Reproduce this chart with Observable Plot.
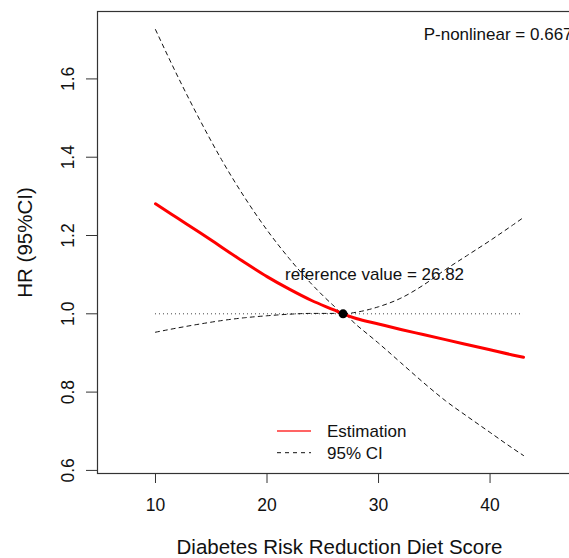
<!DOCTYPE html>
<html>
<head>
<meta charset="utf-8">
<script src="https://cdn.jsdelivr.net/npm/d3@7"></script>
<script src="https://cdn.jsdelivr.net/npm/@observablehq/plot@0.6"></script>
<style>
  html, body { margin: 0; padding: 0; background: #fff; }
  #chart { position: relative; width: 569px; height: 558px; overflow: hidden; }
  #chart svg { font-family: "Liberation Sans", Arial, sans-serif; max-width: none !important; width: 581px !important; height: 558px !important; }
</style>
</head>
<body>
<div id="chart"></div>
<script>
// Diet score values (x)
const score = [10, 12, 14, 16, 18, 20, 22, 24, 26, 26.82, 28, 30, 32, 34, 36, 38, 40, 42, 43];
// Estimated HR
const estimate = [1.281, 1.244, 1.207, 1.169, 1.131, 1.095, 1.063, 1.034, 1.010, 1.0, 0.988, 0.974, 0.960, 0.947, 0.934, 0.921, 0.908, 0.895, 0.889];
// Upper 95% CI
const upperCI = [1.726, 1.606, 1.494, 1.390, 1.297, 1.214, 1.141, 1.076, 1.020, 1.0, 1.004, 1.018, 1.040, 1.073, 1.113, 1.150, 1.187, 1.226, 1.246];
// Lower 95% CI
const lowerCI = [0.953, 0.964, 0.974, 0.983, 0.990, 0.995, 0.999, 1.001, 1.001, 1.0, 0.972, 0.925, 0.875, 0.825, 0.778, 0.737, 0.697, 0.657, 0.638];

const refValue = 26.82;
const refHR = 1.0;
const xTicks = [10, 20, 30, 40];
const yTicks = [0.6, 0.8, 1.0, 1.2, 1.4, 1.6];
const pLabel = "P-nonlinear = 0.667";
const pPos = {x: 34.05, y: 1.713};
const refLabel = "reference value = 26.82";
const refLabelPos = {x: 29.64, y: 1.1};
const xLabel = "Diabetes Risk Reduction Diet Score";
const yLabel = "HR (95%CI)";
const legendLabels = ["Estimation", "95% CI"];

const rows = score.map((s, i) => ({score: s, est: estimate[i], up: upperCI[i], lo: lowerCI[i]}));

const fs = 17;
const tfs = 17.5;
const lfs = 20.5;
const chart = Plot.plot({
  width: 581,
  height: 558,
  marginLeft: 97,
  marginTop: 11,
  marginBottom: 85,
  marginRight: 0,
  style: {fontFamily: '"Liberation Sans", Arial, sans-serif', fontSize: fs + "px", background: "#fff", color: "#000"},
  x: {domain: [4.8, 48.2], axis: null},
  y: {domain: [0.5921, 1.7722], axis: null},
  marks: [
    Plot.frame({stroke: "#333", strokeWidth: 1.2}),
    Plot.axisX({ticks: xTicks, tickSize: 10, tickPadding: 15, fontSize: tfs, stroke: "#333", fill: "#111", tickFormat: d => d, label: null}),
    Plot.axisY({ticks: yTicks, tickSize: 11, tickFormat: () => "", label: null, stroke: "#333"}),
    Plot.text(yTicks, {y: d => d, text: d => d.toFixed(1), frameAnchor: "left", dx: -24, rotate: -90, textAnchor: "middle", lineAnchor: "bottom", fontSize: tfs, fill: "#111"}),
    Plot.ruleY([refHR], {x1: score[0], x2: score[score.length - 1], stroke: "#444", strokeDasharray: "1,3", strokeWidth: 1}),
    Plot.line(rows, {x: "score", y: "up", stroke: "#111", strokeWidth: 1, strokeDasharray: "4,4", curve: "monotone-x"}),
    Plot.line(rows, {x: "score", y: "lo", stroke: "#111", strokeWidth: 1, strokeDasharray: "4,4", curve: "monotone-x"}),
    Plot.line(rows, {x: "score", y: "est", stroke: "#ff0000", strokeWidth: 3, curve: "monotone-x"}),
    Plot.dot([{x: refValue, y: refHR}], {x: "x", y: "y", r: 4.5, fill: "#000", stroke: "none"}),
    Plot.text([refLabelPos], {x: "x", y: "y", text: () => refLabel, fontSize: fs, textAnchor: "middle", fill: "#111"}),
    Plot.text([pPos], {x: "x", y: "y", text: () => pLabel, fontSize: fs, textAnchor: "start", fill: "#111"}),
    Plot.text([xLabel], {frameAnchor: "bottom", dy: 80, text: d => d, textAnchor: "middle", lineAnchor: "bottom", fontSize: lfs, fill: "#111"}),
    Plot.text([yLabel], {frameAnchor: "left", dx: -66, rotate: -90, text: d => d, textAnchor: "middle", lineAnchor: "bottom", fontSize: lfs, fill: "#111"})
  ]
});
document.getElementById("chart").appendChild(chart);

// Legend (drawn into the same SVG)
const svg = d3.select(chart);
const lg = svg.append("g")
  .attr("font-family", '"Liberation Sans", Arial, sans-serif')
  .attr("font-size", fs + "px")
  .attr("text-anchor", "start");
const items = [
  {label: legendLabels[0], stroke: "#ff3030", dash: null, w: 1.5},
  {label: legendLabels[1], stroke: "#111", dash: "4,4", w: 1}
];
items.forEach((it, i) => {
  const yy = 431 + i * 21.7;
  lg.append("line").attr("x1", 277).attr("x2", 311).attr("y1", yy).attr("y2", yy)
    .attr("stroke", it.stroke).attr("stroke-width", it.w).attr("stroke-dasharray", it.dash);
  lg.append("text").attr("x", 327).attr("y", yy).attr("dy", "0.36em").attr("text-anchor", "start").attr("fill", "#111").text(it.label);
});
</script>
</body>
</html>
